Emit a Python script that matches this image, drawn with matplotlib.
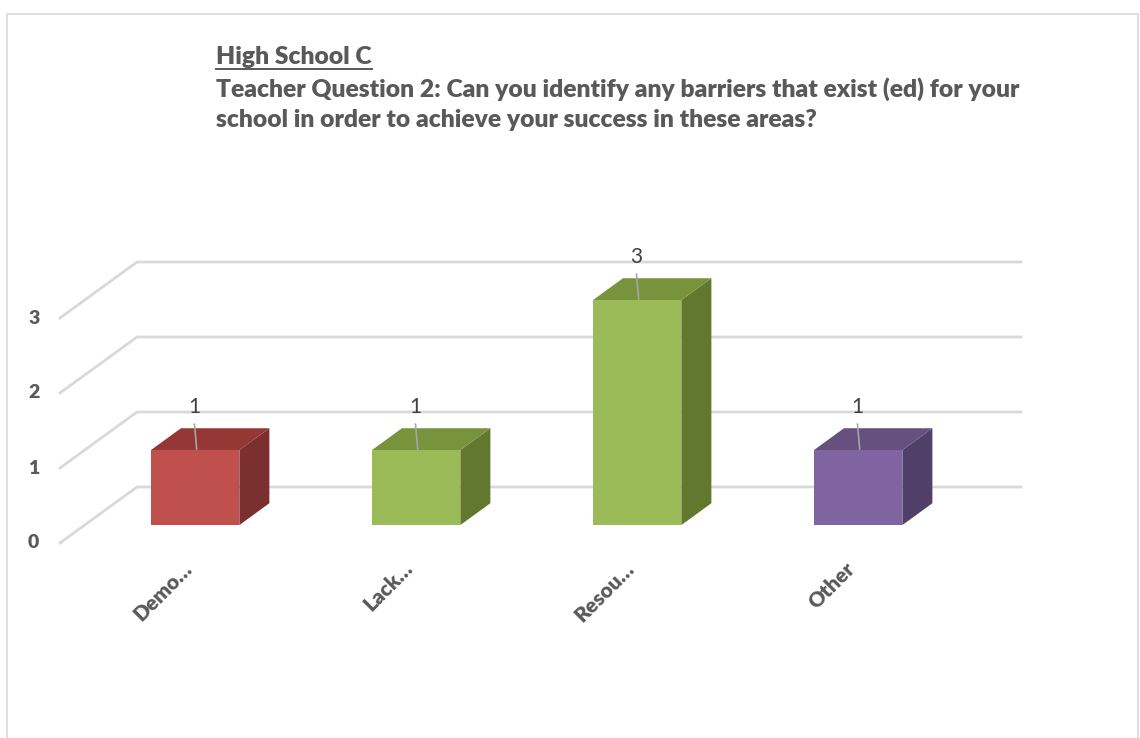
import matplotlib.pyplot as plt
from matplotlib.patches import Polygon, Rectangle
from matplotlib.lines import Line2D

# survey counts per barrier category
categories = ['Demo…', 'Lack…', 'Resou…', 'Other']
counts = [1, 1, 3, 1]
y_ticks = [0, 1, 2, 3]

front_colors = ['#C0504D', '#9BBB59', '#9BBB59', '#8064A2']
top_colors = ['#953735', '#77933C', '#77933C', '#65507F']
side_colors = ['#7B2F2E', '#62782F', '#62782F', '#504069']

title_school = 'High School C'
title_lines = ['Teacher Question 2: Can you identify any barriers that exist (ed) for your',
               'school in order to achieve your success in these areas?']

W, H = 1140, 738
fig = plt.figure(figsize=(W / 100, H / 100), dpi=100)
plt.rcParams['font.family'] = ['Lato', 'DejaVu Sans']
txt = '#595959'
grid = '#D9D9D9'

# outer chart border
fig.patches.append(Rectangle((7 / W, -0.01), 1131 / W, (738 - 14) / H + 0.01,
                             transform=fig.transFigure, fill=False,
                             edgecolor=grid, lw=1.2))

# oblique depth vector (in data units) for the fake 3d floor
DX, DY = 77 / 221, 56 / 75
bar_w = 0.4
z0, z1 = 0.32, 0.71  # bar front/back as fraction of the floor depth

ax = fig.add_axes([60 / W, 195 / H, 961 / W, 300 / H])
ax.set_xlim(-0.5, 3.5 + DX)
ax.set_ylim(0, 4)
ax.axis('off')


def proj(x, y, z):
    return x + z * DX, y + z * DY


# back wall and side wall gridlines
for v in y_ticks:
    xa, ya = proj(-0.5, v, 0)
    xb, yb = proj(-0.5, v, 1)
    xc, yc = proj(len(categories) - 0.5, v, 1)
    ax.plot([xa, xb, xc], [ya, yb, yc], color=grid, lw=2, clip_on=False,
            solid_joinstyle='miter', zorder=1)
    ax.annotate(str(v), (xa, ya), xytext=(-19, 0), textcoords='offset points',
                ha='center', va='center', fontsize=14, fontweight='heavy',
                color=txt, annotation_clip=False)

# bars: front, top and right side faces
for i, v in enumerate(counts):
    x0, x1 = i - bar_w / 2, i + bar_w / 2
    front = [proj(x0, 0, z0), proj(x1, 0, z0), proj(x1, v, z0), proj(x0, v, z0)]
    top = [proj(x0, v, z0), proj(x1, v, z0), proj(x1, v, z1), proj(x0, v, z1)]
    side = [proj(x1, 0, z0), proj(x1, 0, z1), proj(x1, v, z1), proj(x1, v, z0)]
    for pts, c in ((side, side_colors[i]), (top, top_colors[i]), (front, front_colors[i])):
        ax.add_patch(Polygon(pts, closed=True, facecolor=c, edgecolor='none',
                             zorder=3, clip_on=False))

    # data label with leader line
    lx, ly = proj(i, v, z0 + 0.02)
    ax.plot([lx, lx - 0.01], [ly, ly + 0.33], color='#A6A6A6', lw=1.2,
            zorder=4, clip_on=False)
    ax.text(lx - 0.01, ly + 0.56, str(v), ha='center', va='center',
            fontsize=15, color='#404040', zorder=4)

    # rotated category label
    cx, cy = proj(i, 0, 0)
    ax.annotate(categories[i], (cx, cy), xytext=(13, -16), textcoords='offset points',
                ha='right', va='center', rotation=45, rotation_mode='anchor',
                fontsize=15, fontweight='heavy', color=txt, annotation_clip=False)

# title block
tkw = dict(ha='left', va='center', fontsize=17.7, fontweight='heavy', color=txt)
t = fig.text(216 / W, 1 - 57 / H, title_school, **tkw)
fig.text(216 / W, 1 - 89 / H, title_lines[0], **tkw)
fig.text(216 / W, 1 - 120 / H, title_lines[1], **tkw)

# underline the school name
fig.canvas.draw()
bb = t.get_window_extent(fig.canvas.get_renderer())
uy = bb.y0 - 1
fig.add_artist(Line2D([bb.x0 / W, bb.x1 / W], [uy / H, uy / H],
                      transform=fig.transFigure, color=txt, lw=1.4))

fig.savefig('out.png', dpi=100)
